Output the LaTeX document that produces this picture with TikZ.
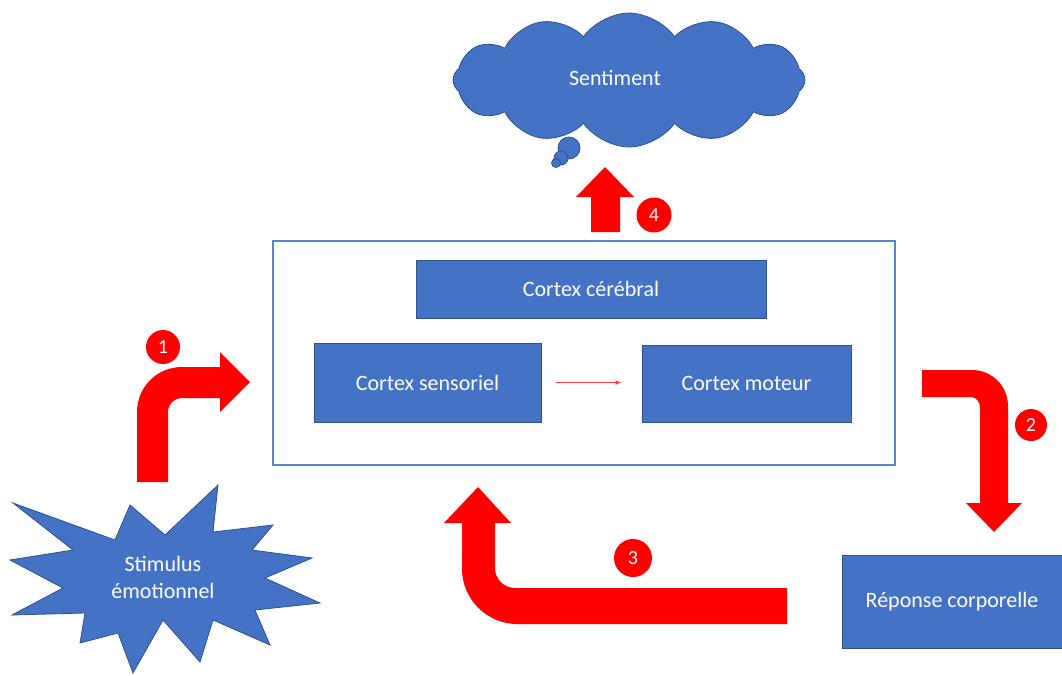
\documentclass[tikz,border=0pt]{standalone}
\usepackage{fontspec}
\setmainfont{Carlito}
\usetikzlibrary{shapes.symbols,shapes.geometric,arrows.meta}
\definecolor{boxblue}{HTML}{4472C4}
\definecolor{boxedge}{HTML}{2F528F}
\definecolor{framecol}{HTML}{5B84D0}
\definecolor{arrred}{HTML}{FF0000}
\definecolor{thinred}{HTML}{FF4040}
\tikzset{
  cbox/.style={draw=boxedge, line width=1pt, fill=boxblue, text=white, inner sep=2pt, font=\fontsize{22}{26}\selectfont},
  blockarrow/.style={fill=arrred},
  numdot/.style={circle, fill=arrred, text=white, inner sep=0pt, font=\fontsize{20}{22}\selectfont},
  bluetext/.style={text=white, font=\fontsize{22}{27}\selectfont, align=center},
}
\begin{document}
\begin{tikzpicture}[x=1pt,y=-1pt]
\useasboundingbox (0,0) rectangle (1062,675);

% frame and boxes
\node[draw=framecol, line width=1.2pt, minimum width=622pt, minimum height=224pt, inner sep=0pt] (frame) at (584,353) {};
\node[cbox, minimum width=350pt, minimum height=58pt] (cereb) at (591,289) {Cortex cérébral};
\node[cbox, minimum width=227pt, minimum height=79pt] (sens) at (427.5,382.5) {Cortex sensoriel};
\node[cbox, minimum width=209pt, minimum height=77pt] (mot) at (746.5,383.5) {Cortex moteur};
\node[cbox, minimum width=220pt, minimum height=93pt] (resp) at (952,601.5) {Réponse corporelle};
\draw[thinred, line width=1.3pt, -{Latex[length=6pt,width=5pt]}] ([xshift=14pt]sens.east) -- ([xshift=-20pt]sens.east -| mot.west);

% cloud
\draw[fill=boxblue, draw=boxedge, line width=0.8pt] (569,148) circle[radius=11pt];
\draw[fill=boxblue, draw=boxedge, line width=0.8pt] (561,158) circle[radius=7pt];
\draw[fill=boxblue, draw=boxedge, line width=0.8pt] (556,163) circle[radius=4.5pt];
\node[cloud, cloud puffs=12, cloud puff arc=110, cloud ignores aspect, minimum width=352pt, minimum height=134pt, fill=boxblue, draw=boxedge, line width=0.8pt] (cloud) at (629,80) {};
\node[bluetext] (sent) at (615,78) {Sentiment};

% star
\filldraw[fill=boxblue, draw=boxedge, line width=0.8pt]
  (13,503) -- (115,540) -- (130,505) -- (165,535) -- (218,485) -- (213,532)
  -- (273,525) -- (252,550) -- (312,558) -- (265,578) -- (320,603) -- (255,610)
  -- (270,645) -- (213,620) -- (200,662) -- (163,620) -- (133,673) -- (118,633)
  -- (80,643) -- (85,613) -- (12,615) -- (63,588) -- (10,560) -- (73,550) -- cycle;
\node[bluetext] (stim) at (163,577) {Stimulus\\émotionnel};

% block arrows
% 1
\fill[blockarrow] (137,482) -- (137,412) .. controls (137,387) and (157,367) .. (182,367)
  -- (220,367) -- (220,352) -- (250,382) -- (220,412) -- (220,398) -- (182,398)
  .. controls (174,398) and (168,404) .. (168,412) -- (168,482) -- cycle;
% 2
\fill[blockarrow] (922,370) -- (972,370) .. controls (992,370) and (1008,386) .. (1008,406)
  -- (1008,503) -- (1022,503) -- (994,532) -- (966,503) -- (980,503) -- (980,407)
  .. controls (980,402) and (976,397) .. (971,397) -- (922,397) -- cycle;
% 3
\fill[blockarrow] (787,588) -- (515,588) .. controls (504,588) and (495,579) .. (495,568)
  -- (495,523) -- (511,523) -- (478,487) -- (444,523) -- (462,523) -- (462,569)
  .. controls (462,599) and (487,624) .. (517,624) -- (787,624) -- cycle;
% 4
\fill[blockarrow] (591,232) -- (591,197) -- (576,197) -- (605,167) -- (634,197)
  -- (620,197) -- (620,232) -- cycle;

% number dots
\node[numdot, minimum size=34pt] (n1) at (163,347) {1};
\node[numdot, minimum size=32pt] (n2) at (1031,425) {2};
\node[numdot, minimum size=38pt] (n3) at (633,558) {3};
\node[numdot, minimum size=35pt] (n4) at (654,215) {4};
\end{tikzpicture}
\end{document}
